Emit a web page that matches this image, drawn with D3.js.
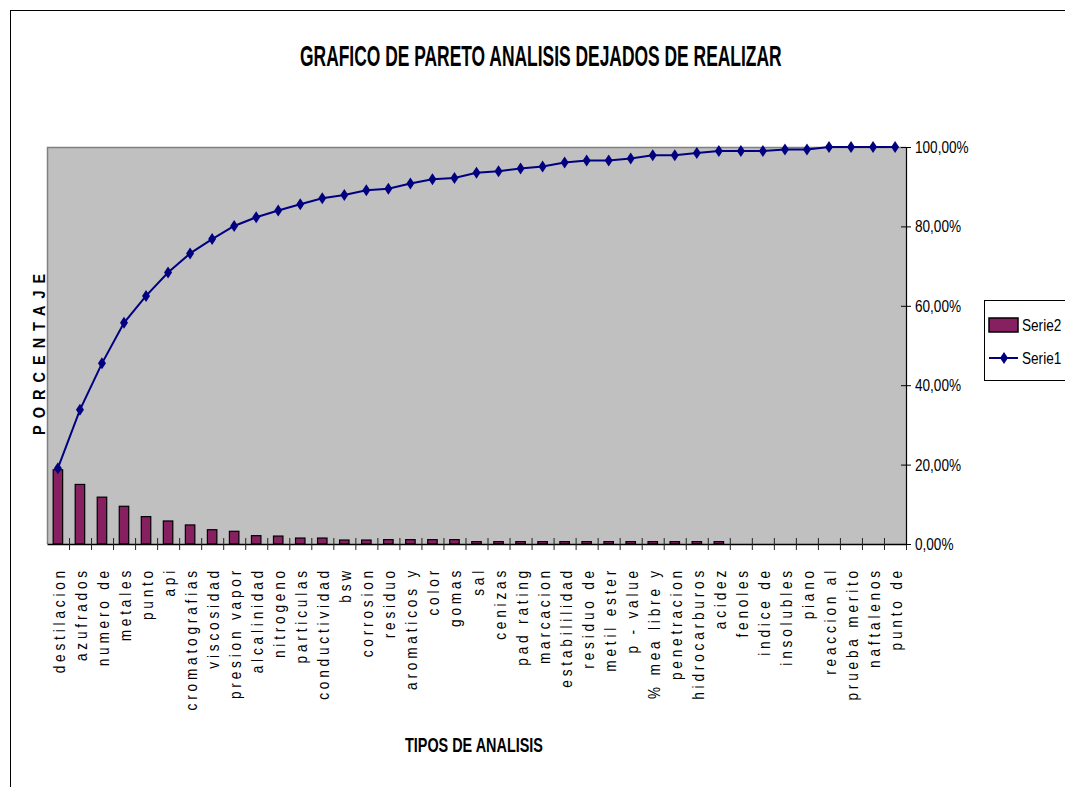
<!DOCTYPE html>
<html>
<head>
<meta charset="utf-8">
<script src="https://cdnjs.cloudflare.com/ajax/libs/d3/7.8.5/d3.min.js"></script>
<style>
  body { margin: 0; background: #fff; }
  svg { display: block; }
</style>
</head>
<body>
<div id="chart"></div>
<script>
// pareto chart - analisis dejados de realizar

var categories = ['destilacion', 'azufrados', 'numero de', 'metales', 'punto', 'api',
    'cromatografias', 'viscosidad', 'presion vapor', 'alcalinidad', 'nitrogeno', 'particulas',
    'conductividad', 'bsw', 'corrosion', 'residuo', 'aromaticos y', 'color', 'gomas', 'sal',
    'cenizas', 'pad rating', 'marcacion', 'estabililidad', 'residuo de', 'metil ester', 'p - value',
    '% mea libre y', 'penetracion', 'hidrocarburos', 'acidez', 'fenoles', 'indice de', 'insolubles',
    'piano', 'reaccion al', 'prueba merito', 'naftalenos', 'punto de'];

// Serie2 : porcentaje de cada analisis (barras)
var serie2 = [18.7, 15.0, 11.8, 9.5, 6.9, 5.8, 4.8, 3.6, 3.2, 2.1, 2.0, 1.5, 1.5, 1.0, 1.0,
    1.1, 1.1, 1.1, 1.1, 0.6, 0.6, 0.6, 0.6, 0.6, 0.6, 0.6, 0.6, 0.6, 0.6, 0.6, 0.6,
    0, 0, 0, 0, 0, 0, 0, 0];

// Serie1 : porcentaje acumulado (linea)
var serie1 = [19.1, 33.8, 45.5, 55.7, 62.5, 68.4, 73.2, 76.8, 80.1, 82.3, 84.0, 85.6, 87.1,
    87.9, 89.1, 89.5, 90.8, 91.9, 92.2, 93.5, 93.9, 94.6, 95.1, 96.1, 96.6, 96.6, 97.1,
    97.9, 97.9, 98.5, 99.0, 99.0, 99.0, 99.4, 99.4, 100, 100, 100, 100];

var yTicks = [0, 20, 40, 60, 80, 100];

var W = 1065, H = 787;
var plot = {left: 47, right: 906, top: 147, bottom: 544};
var font = "'Liberation Sans', Arial, sans-serif";
var squeeze = 0.8; // no narrow font installed, so squeeze horizontally
var barColor = '#862060';
var lineColor = '#000080';

var svg = d3.select('#chart').append('svg')
    .attr('width', W)
    .attr('height', H);

// outer frame (cropped on the right / bottom)
svg.append('rect')
    .attr('x', 10.5).attr('y', 10.5)
    .attr('width', 1200).attr('height', 1000)
    .attr('fill', 'none').attr('stroke', '#000');

var x = d3.scaleBand()
    .domain(categories)
    .range([plot.left, plot.right])
    .paddingInner(0.57)
    .paddingOuter(0.28);

var y = d3.scaleLinear()
    .domain([0, 100])
    .range([plot.bottom, plot.top]);

// plot background
svg.append('rect')
    .attr('x', plot.left).attr('y', plot.top)
    .attr('width', plot.right - plot.left).attr('height', plot.bottom - plot.top)
    .attr('fill', '#C0C0C0');
svg.append('path')
    .attr('d', 'M' + (plot.left + 0.5) + ',' + plot.bottom + 'V' + (plot.top + 0.5) + 'H' + plot.right)
    .attr('fill', 'none').attr('stroke', '#808080').attr('stroke-width', 1.5);

// bars
svg.append('g').selectAll('rect')
    .data(serie2.map(function(v, i) { return {cat: categories[i], v: v}; }).filter(function(d) { return d.v > 0; }))
    .join('rect')
    .attr('x', function(d) { return x(d.cat); })
    .attr('y', function(d) { return y(d.v); })
    .attr('width', x.bandwidth())
    .attr('height', function(d) { return y(0) - y(d.v); })
    .attr('fill', barColor)
    .attr('stroke', '#000')
    .attr('stroke-width', 1.2);

// bottom axis with crossing ticks
var xb = d3.scaleLinear().domain([0, categories.length]).range([plot.left, plot.right]);
var bottomAxis = svg.append('g')
    .attr('transform', 'translate(0,' + plot.bottom + ')')
    .call(d3.axisBottom(xb).tickValues(d3.range(1, categories.length + 1)).tickSize(6).tickSizeOuter(0).tickFormat(''));
bottomAxis.select('.domain').attr('stroke', '#000').attr('stroke-width', 1.5);
bottomAxis.selectAll('.tick line').attr('y1', -6).attr('stroke', '#222');

// category labels (rotated, spaced out)
svg.append('g').selectAll('text')
    .data(categories)
    .join('text')
    .attr('transform', function(d) {
        return 'translate(' + (x(d) + x.bandwidth() / 2 + 7) + ',' + 567 + ') rotate(-90) scale(0.85,1)';
    })
    .attr('text-anchor', 'end')
    .attr('font-family', font)
    .attr('font-size', '16px')
    .attr('letter-spacing', '4.5px')
    .attr('fill', '#000')
    .text(function(d) { return d; });

// right axis
var rightAxis = svg.append('g')
    .attr('transform', 'translate(' + plot.right + ',0)')
    .call(d3.axisRight(y).tickValues(yTicks).tickSize(5).tickSizeOuter(0)
        .tickFormat(function(d) { return d3.format('.2f')(d).replace('.', ',') + '%'; }));
rightAxis.select('.domain').attr('stroke', '#000').attr('stroke-width', 1.2);
rightAxis.selectAll('.tick line').attr('x1', -5).attr('stroke', '#000');
rightAxis.selectAll('.tick text')
    .attr('x', 9 / squeeze)
    .attr('transform', 'scale(' + squeeze + ',1)')
    .attr('font-family', font)
    .attr('font-size', '17px')
    .attr('fill', '#000');

// cumulative line
var line = d3.line()
    .x(function(d, i) { return x(categories[i]) + x.bandwidth() / 2; })
    .y(function(d) { return y(d); });

svg.append('path')
    .attr('d', line(serie1))
    .attr('fill', 'none')
    .attr('stroke', lineColor)
    .attr('stroke-width', 2);

var diamond = 'M0,-6L4,0L0,6L-4,0Z';
svg.append('g').selectAll('path')
    .data(serie1)
    .join('path')
    .attr('d', diamond)
    .attr('transform', function(d, i) { return 'translate(' + (x(categories[i]) + x.bandwidth() / 2) + ',' + y(d) + ')'; })
    .attr('fill', lineColor);

// condensed bold text: squeeze to a given width
function condensed(str, x0, y0, size, width) {
    var t = svg.append('text')
        .attr('font-family', font)
        .attr('font-weight', 'bold')
        .attr('font-size', size + 'px')
        .text(str);
    var k = width / t.node().getComputedTextLength();
    t.attr('transform', 'translate(' + x0 + ',' + y0 + ') scale(' + k + ',1)');
    return t;
}

condensed('GRAFICO DE PARETO ANALISIS DEJADOS DE REALIZAR', 300, 66, 29, 482);
condensed('TIPOS DE ANALISIS', 405, 752, 21, 138);

svg.append('text')
    .attr('transform', 'translate(45,435) rotate(-90) scale(0.85,1)')
    .attr('font-family', font)
    .attr('font-weight', 'bold')
    .attr('font-size', '17px')
    .attr('letter-spacing', '8.3px')
    .text('PORCENTAJE');

// legend
var legend = svg.append('g').attr('transform', 'translate(984,300)');
legend.append('rect')
    .attr('x', 0.5).attr('y', 0.5)
    .attr('width', 120).attr('height', 80)
    .attr('fill', '#fff').attr('stroke', '#000');
legend.append('rect')
    .attr('x', 5).attr('y', 18).attr('width', 29).attr('height', 14)
    .attr('fill', barColor).attr('stroke', '#000').attr('stroke-width', 1.5);
legend.append('text')
    .attr('transform', 'translate(38,31) scale(' + squeeze + ',1)')
    .attr('font-family', font).attr('font-size', '17px')
    .text('Serie2');
legend.append('line')
    .attr('x1', 5).attr('x2', 34).attr('y1', 58).attr('y2', 58)
    .attr('stroke', lineColor).attr('stroke-width', 2);
legend.append('path')
    .attr('d', diamond)
    .attr('transform', 'translate(20,58)')
    .attr('fill', lineColor);
legend.append('text')
    .attr('transform', 'translate(38,64) scale(' + squeeze + ',1)')
    .attr('font-family', font).attr('font-size', '17px')
    .text('Serie1');
</script>
</body>
</html>
